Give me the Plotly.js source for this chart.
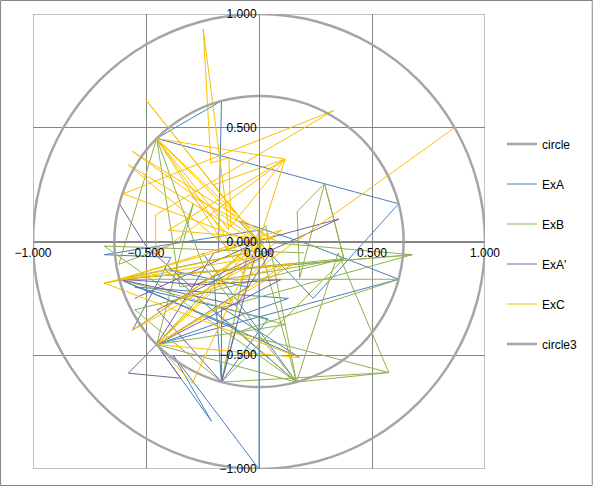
<!DOCTYPE html>
<html>
<head>
<meta charset="utf-8">
<script src="https://cdn.plot.ly/plotly-3.0.1.min.js"></script>
<style>html,body{margin:0;padding:0;background:#fff;}#chart{width:594px;height:486px;}</style>
</head>
<body>
<div id="chart"></div>
<script>
// outer reference circle (radius 1), points every 15 degrees
const circleX = [1,0.966,0.866,0.707,0.5,0.259,0,-0.259,-0.5,-0.707,-0.866,-0.966,-1,-0.966,-0.866,-0.707,-0.5,-0.259,0,0.259,0.5,0.707,0.866,0.966,1];
const circleY = [0,0.259,0.5,0.707,0.866,0.966,1,0.966,0.866,0.707,0.5,0.259,0,-0.259,-0.5,-0.707,-0.866,-0.966,-1,-0.966,-0.866,-0.707,-0.5,-0.259,0];
// inner reference circle (radius ~0.64)
const circle3X = [0.64,0.618,0.554,0.453,0.32,0.166,0,-0.166,-0.32,-0.453,-0.554,-0.618,-0.64,-0.618,-0.554,-0.453,-0.32,-0.166,0,0.166,0.32,0.453,0.554,0.618,0.64];
const circle3Y = [0,0.166,0.32,0.453,0.554,0.618,0.64,0.618,0.554,0.453,0.32,0.166,0,-0.166,-0.32,-0.453,-0.554,-0.618,-0.64,-0.618,-0.554,-0.453,-0.32,-0.166,0];

const exAX = [-0.18,-0.166,-0.453,0.618,0.24,-0.09,0.24,0.618,-0.453,-0.21,-0.38,0,0,-0.685,-0.39,-0.56,-0.2,-0.166,-0.166,0.18,-0.3,-0.618,-0.1,-0.166,0.04,-0.55,0.13,-0.453,-0.05,-0.42,0.166,-0.25];
const exAY = [-0.05,0.618,0.453,0.166,-0.25,0.09,-0.02,-0.166,-0.453,-0.79,-0.5,-1,0.05,-0.058,-0.07,-0.39,-0.15,-0.618,-0.29,-0.51,-0.3,-0.166,-0.38,-0.618,-0.34,-0.2,-0.25,-0.453,-0.2,-0.12,-0.618,-0.05];

const exBX = [-0.453,-0.62,-0.35,-0.29,-0.453,0.166,0.574,-0.166,0.376,0.29,0.169,0.18,0.29,0.376,-0.618,0.678,0,0.166,0.03,-0.453,0.118,-0.618,0.618,-0.1,0.574,0.35,0.166,-0.25,-0.453,-0.35,0.376,-0.55,-0.166,-0.05,-0.618,0.678,-0.2,0.166,-0.685,0.2];
const exBY = [0.453,-0.1,0,0.169,-0.453,-0.618,-0.576,-0.618,-0.076,0.254,0.132,-0.16,0.254,-0.076,-0.166,-0.058,0,-0.618,0.07,-0.453,-0.366,-0.166,-0.166,-0.4,-0.576,-0.05,-0.618,-0.1,0.453,-0.2,-0.076,-0.3,-0.618,-0.05,-0.166,-0.058,-0.3,-0.618,-0.02,-0.05];

const exA2X = [-0.618,-0.5,-0.3,0.354,-0.2,-0.453,-0.578,-0.346,-0.453,0.096,-0.25,-0.618,-0.1,0.05,-0.45,-0.166,0,-0.55];
const exA2Y = [0.166,-0.02,-0.2,0.099,-0.05,-0.453,-0.579,-0.601,-0.453,-0.168,-0.19,-0.166,-0.28,-0.05,-0.3,-0.618,0,-0.25];

const exCX = [0.865,-0.06,-0.453,0,-0.501,-0.1,-0.453,0.115,0,-0.56,0.08,-0.05,-0.578,0.02,-0.6,0.331,-0.457,-0.457,0.115,-0.125,-0.133,-0.213,-0.247,-0.133,-0.453,-0.09,-0.685,-0.618,0.05,-0.453,0,-0.295,-0.453,0.15,-0.618,0.1,-0.56,0.04,-0.685,0.18,-0.453,0.12,-0.34,0,-0.2,0.115,-0.4,0.06,-0.3,-0.03];
const exCY = [0.5,-0.16,0.453,0,0.624,0.12,0.453,0.362,0,0.396,0,-0.1,0.337,-0.02,0.21,0.576,0.117,-0.06,0.362,0.066,0.367,0.345,0.934,0.051,0.453,-0.06,-0.183,-0.166,0.02,-0.453,0,-0.623,-0.453,-0.1,-0.166,0.05,-0.39,-0.06,-0.183,-0.51,-0.453,-0.1,-0.25,0,0.25,0.362,0.05,0.01,0.2,-0.08];

const tickVals = [-1,-0.5,0,0.5,1];
const tickText = ['\u22121.000','\u22120.500','0.000','0.500','1.000'];

const GRID = '#868686';
function tr(name, x, y, color, width, spline) {
  return {
    type: 'scatter', mode: 'lines', name: name, x: x, y: y,
    legendgroup: name,
    line: {color: color, width: width, shape: spline ? 'spline' : 'linear'},
    hoverinfo: 'skip'
  };
}
const data = [
  tr('circle', circleX, circleY, '#a5a5a5', 2.5, true),
  tr('ExA', exAX, exAY, '#4a7ebb', 1, false),
  tr('ExB', exBX, exBY, '#8fb04e', 1, false),
  tr("ExA'", exA2X, exA2Y, '#76609a', 1, false),
  tr('ExC', exCX, exCY, '#f8c000', 1, false),
  tr('circle3', circle3X, circle3Y, '#a5a5a5', 2.5, true)
];

const L = 33, R = 108, T = 14, B = 17, W = 594, H = 486;
const pw = W - L - R, ph = H - T - B;

const layout = {
  width: W, height: H,
  margin: {l: L, r: R, t: T, b: B, pad: 0},
  paper_bgcolor: '#ffffff', plot_bgcolor: '#ffffff',
  font: {family: 'Liberation Sans, Arial, sans-serif', size: 12, color: '#000'},
  showlegend: true,
  legend: {
    x: (502 - L) / pw, xanchor: 'left',
    y: (T + ph - 244) / ph, yanchor: 'middle',
    traceorder: 'grouped', tracegroupgap: 21,
    font: {size: 12, color: '#000'},
    bgcolor: 'rgba(0,0,0,0)', borderwidth: 0
  },
  xaxis: {
    range: [-1, 1], tickvals: tickVals, ticktext: tickText,
    showgrid: true, gridcolor: GRID, gridwidth: 1,
    zeroline: false, showline: true, linecolor: GRID, linewidth: 1,
    anchor: 'free', position: 0.5, ticks: '', fixedrange: true
  },
  yaxis: {
    range: [-1, 1], tickvals: tickVals, ticktext: tickText,
    showgrid: true, gridcolor: GRID, gridwidth: 1,
    zeroline: false, showline: true, linecolor: GRID, linewidth: 1,
    anchor: 'free', position: 0.5, ticks: '', fixedrange: true
  },
  shapes: [
    {type: 'rect', xref: 'x', yref: 'y', x0: -1, x1: 1, y0: -1, y1: 1,
     line: {color: GRID, width: 1}, layer: 'below'},
    {type: 'rect', xref: 'paper', yref: 'paper',
     x0: (0.5 - L) / pw, x1: (W - 0.5 - L) / pw,
     y0: (T + ph - (H - 0.5)) / ph, y1: (T + ph - 0.5) / ph,
     line: {color: '#868686', width: 1}, layer: 'below'}
  ]
};

Plotly.newPlot('chart', data, layout, {staticPlot: true, displayModeBar: false});
</script>
</body>
</html>
